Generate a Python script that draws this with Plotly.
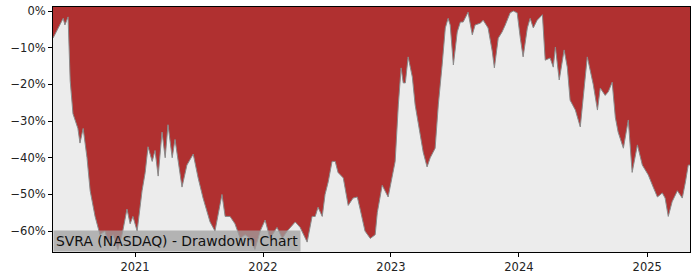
import plotly.graph_objects as go

dates = [
    "2020-05-12", "2020-05-26", "2020-06-10", "2020-06-15", "2020-06-24", "2020-06-30",
    "2020-07-08", "2020-07-22", "2020-07-28", "2020-08-06", "2020-08-17", "2020-08-26",
    "2020-09-09", "2020-09-23", "2020-10-07", "2020-10-16", "2020-10-30", "2020-11-13",
    "2020-11-25", "2020-12-09", "2020-12-18", "2020-12-26", "2021-01-07", "2021-01-21",
    "2021-01-30", "2021-02-07", "2021-02-19", "2021-02-27", "2021-03-08", "2021-03-19",
    "2021-03-28", "2021-04-05", "2021-04-17", "2021-04-25", "2021-05-15", "2021-05-29",
    "2021-06-16", "2021-06-30", "2021-07-14", "2021-08-03", "2021-08-17", "2021-09-06",
    "2021-09-15", "2021-09-29", "2021-10-13", "2021-10-28", "2021-11-11", "2021-11-25",
    "2021-12-09", "2021-12-24", "2022-01-07", "2022-01-21", "2022-02-10", "2022-02-25",
    "2022-03-11", "2022-04-03", "2022-04-17", "2022-05-07", "2022-05-21", "2022-05-30",
    "2022-06-07", "2022-06-19", "2022-06-27", "2022-07-06", "2022-07-17", "2022-07-26",
    "2022-08-03", "2022-08-18", "2022-09-01", "2022-09-15", "2022-09-27", "2022-10-05",
    "2022-10-19", "2022-11-03", "2022-11-17", "2022-11-23", "2022-12-07", "2022-12-24",
    "2023-01-13", "2023-01-22", "2023-01-30", "2023-02-05", "2023-02-11", "2023-02-19",
    "2023-03-03", "2023-03-11", "2023-03-25", "2023-04-03", "2023-04-14", "2023-04-23",
    "2023-05-07", "2023-05-16", "2023-05-27", "2023-06-05", "2023-06-13", "2023-06-19",
    "2023-06-28", "2023-07-09", "2023-07-18", "2023-07-26", "2023-08-09", "2023-08-21",
    "2023-08-29", "2023-09-13", "2023-09-21", "2023-10-05", "2023-10-17", "2023-10-23",
    "2023-11-03", "2023-11-14", "2023-11-23", "2023-12-07", "2023-12-16", "2023-12-27",
    "2024-01-05", "2024-01-13", "2024-01-25", "2024-02-02", "2024-02-11", "2024-02-22",
    "2024-03-08", "2024-03-16", "2024-03-30", "2024-04-08", "2024-04-14", "2024-04-25",
    "2024-05-09", "2024-05-18", "2024-05-26", "2024-06-10", "2024-06-24", "2024-07-03",
    "2024-07-14", "2024-07-31", "2024-08-12", "2024-08-20", "2024-09-03", "2024-09-12",
    "2024-09-23", "2024-10-02", "2024-10-10", "2024-10-25", "2024-11-08", "2024-11-19",
    "2024-12-04", "2024-12-18", "2025-01-04", "2025-01-18", "2025-01-30", "2025-02-13",
    "2025-02-21", "2025-03-02", "2025-03-13", "2025-03-28", "2025-04-11", "2025-04-20",
    "2025-04-28", "2025-05-03",
]

drawdown = [
    -7.4, -4.6, -2.0, -3.8, -1.6, -19.0,
    -28.0, -32.0, -36.0, -32.0, -40.0, -49.0,
    -56.0, -61.0, -60.0, -63.0, -61.0, -65.0,
    -61.0, -54.0, -58.0, -56.0, -60.0, -49.0,
    -44.0, -37.0, -41.0, -38.0, -45.0, -33.0,
    -40.0, -31.0, -40.0, -35.0, -48.0, -42.0,
    -39.0, -45.5, -51.0, -57.5, -60.0, -50.0,
    -56.0, -56.0, -58.0, -62.0, -61.0, -62.0,
    -65.0, -60.0, -57.0, -62.0, -59.0, -62.0,
    -60.0, -57.5, -59.0, -63.0, -56.0, -56.0,
    -53.5, -56.0, -50.0, -46.6, -41.0, -41.0,
    -44.0, -45.5, -53.0, -51.0, -50.7, -54.0,
    -60.0, -62.0, -61.0, -55.0, -47.5, -50.7,
    -41.0, -25.6, -15.5, -19.6, -19.6, -12.5,
    -18.0, -25.6, -33.8, -38.5, -42.5, -40.0,
    -37.4, -25.6, -14.7, -4.6, -2.0, -3.8,
    -14.7, -5.7, -3.0, -3.0, -0.3, -6.5,
    -3.8, -3.3, -2.5, -4.6, -11.0, -15.5,
    -7.4, -5.7, -3.8, -0.5, 0.0, -0.5,
    -7.4, -12.5, -4.6, -2.0, -4.6, -2.5,
    -1.0, -13.4, -12.8, -15.3, -9.8, -18.8,
    -10.6, -15.3, -24.3, -27.0, -31.6, -23.5,
    -12.5, -20.0, -27.0, -21.0, -23.0, -22.0,
    -19.4, -29.0, -33.0, -37.4, -29.7, -44.0,
    -36.5, -42.0, -44.7, -48.0, -50.7, -49.6,
    -51.0, -56.0, -52.0, -49.0, -51.0, -46.6,
    -42.0, -42.0,
]

y_ticks = [0, -10, -20, -30, -40, -50, -60]
y_tick_text = ["0%", "\u221210%", "\u221220%", "\u221230%", "\u221240%", "\u221250%", "\u221260%"]
x_ticks = ["2021-01-01", "2022-01-01", "2023-01-01", "2024-01-01", "2025-01-01"]
x_tick_text = ["2021", "2022", "2023", "2024", "2025"]

y_top = 1.1
y_bottom = -65.7
title = "SVRA (NASDAQ) - Drawdown Chart"

fig = go.Figure()
fig.add_trace(go.Scatter(
    x=dates, y=[y_top + 1] * len(dates), mode="lines",
    line=dict(width=0, color="rgba(0,0,0,0)"), hoverinfo="skip", showlegend=False,
))
fig.add_trace(go.Scatter(
    x=dates, y=drawdown, mode="lines", fill="tonexty",
    fillcolor="#b03030", line=dict(color="#8a8a8a", width=1), showlegend=False,
))

axis_common = dict(
    showgrid=False, zeroline=False, showline=True, linecolor="black", linewidth=1,
    mirror=True, ticks="outside", ticklen=4, tickcolor="black", automargin=False,
    tickfont=dict(family="DejaVu Sans", size=11.5, color="#222222"),
)

fig.update_layout(
    template="none",
    width=700, height=280,
    margin=dict(l=53, r=10, t=7, b=28, pad=0),
    paper_bgcolor="white", plot_bgcolor="#ececec",
    font=dict(family="DejaVu Sans", size=12, color="#222222"),
    xaxis=dict(range=["2020-05-12", "2025-05-03"], tickvals=x_ticks, ticktext=x_tick_text,
               **axis_common),
    yaxis=dict(range=[y_bottom, y_top], tickvals=y_ticks, ticktext=y_tick_text,
               **axis_common),
    annotations=[dict(
        text=title, xref="paper", yref="paper", x=0, y=0,
        xanchor="left", yanchor="bottom", showarrow=False,
        bgcolor="rgba(160,160,160,0.75)", borderpad=2,
        font=dict(family="DejaVu Sans", size=13.9, color="#111111"),
    )],
)

fig.write_html("out.html")
